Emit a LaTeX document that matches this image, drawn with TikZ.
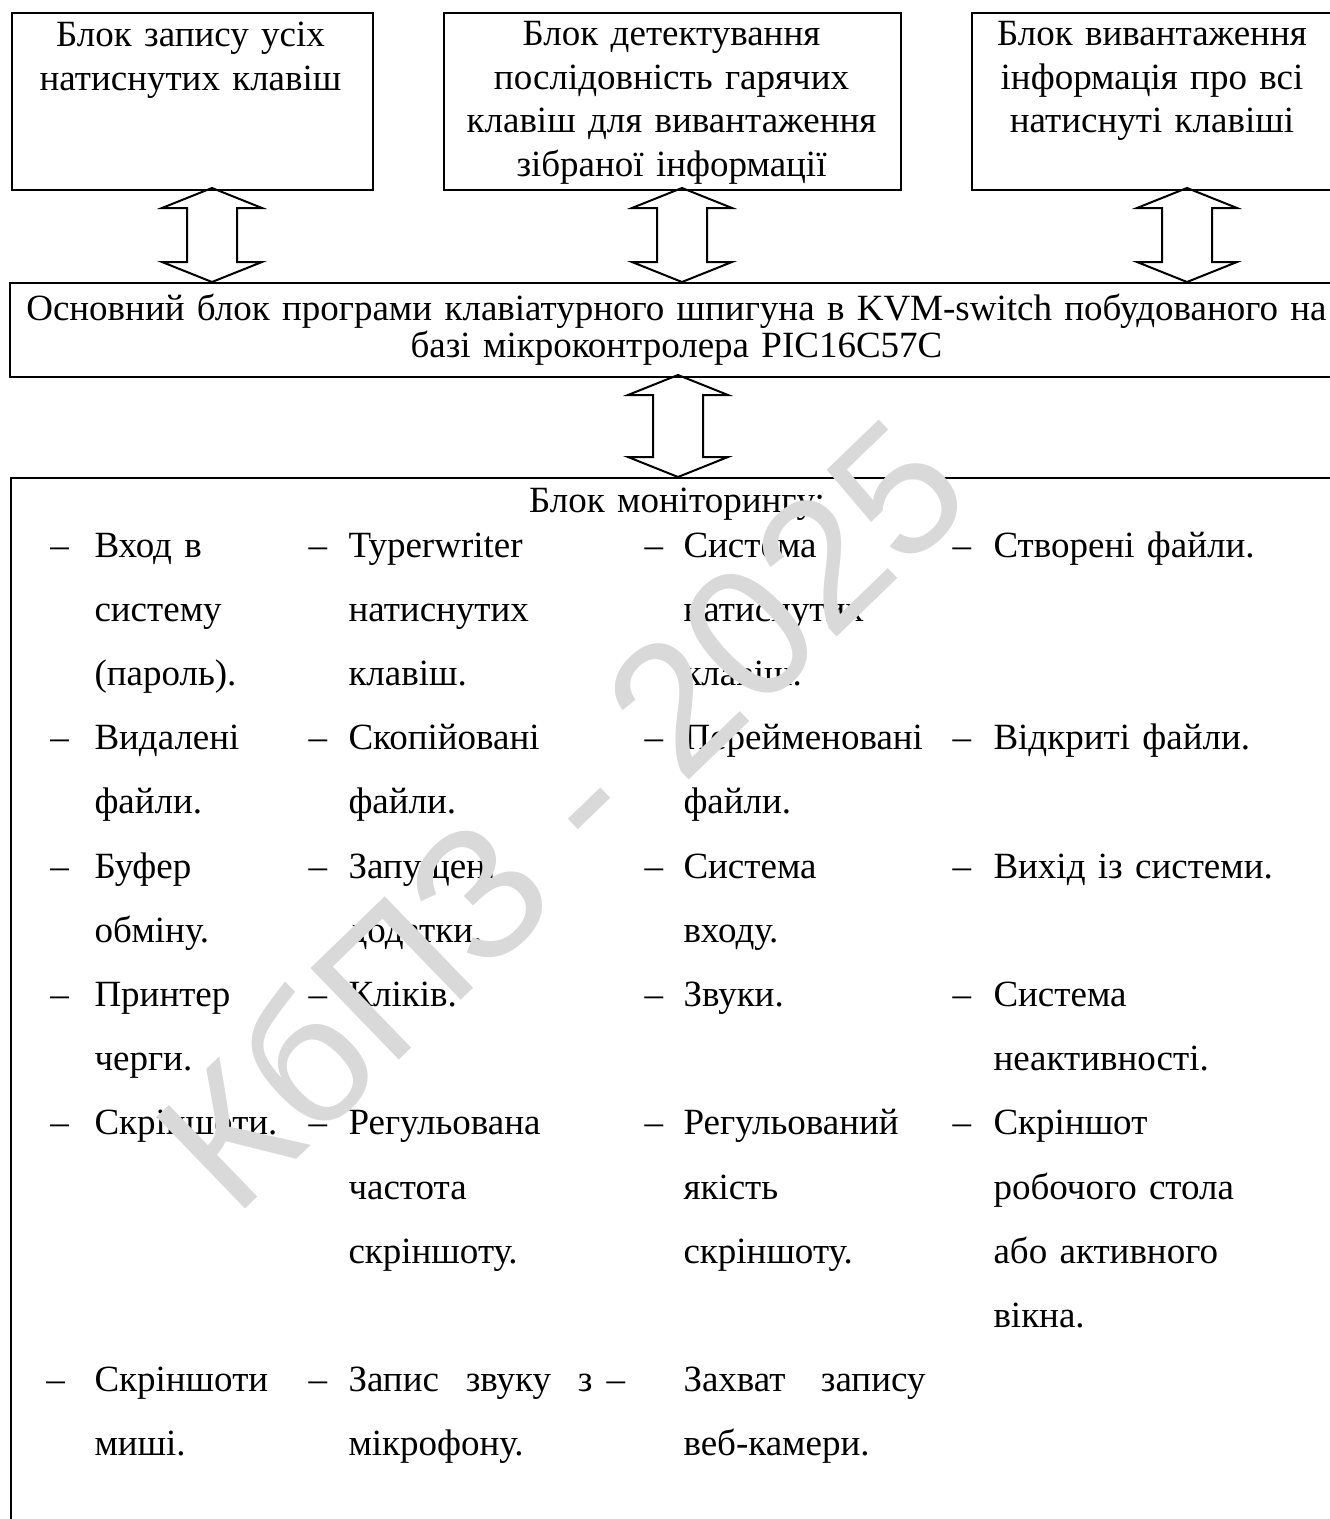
\documentclass[tikz,border=0pt]{standalone}
\usepackage{fontspec}
\setmainfont{Liberation Serif}
\newfontfamily\wmfont{Liberation Sans}
\usetikzlibrary{calc,fit}

% two-headed hollow arrow between an upper and a lower block
\newcommand\biarrow[3]{%
  \draw[barrow] ($(#2.south -| #1)+(0,-3)$) -- ++(50,20) -- ++(-25,0)
    -- ($(#3.north -| #1)+(25,-20)$) -- ++(25,0) -- (#3.north -| #1)
    -- ++(-50,-20) -- ++(25,0) -- ($(#2.south -| #1)+(-25,17)$) -- ++(-25,0) -- cycle;}

\tikzset{
  blk/.style={draw, line width=0.8pt, inner sep=0pt},
  barrow/.style={line width=0.8pt, line join=miter},
  title/.style={inner sep=0pt, anchor=base, align=center, text width=#1,
    font=\fontsize{14.8}{17.4}\selectfont},
  dashmark/.style={inner sep=0pt, anchor=base west, font=\fontsize{14.8}{16}\selectfont},
  entry/.style={inner sep=0pt, anchor=base west, align=left, text width=118pt,
    font=\fontsize{14.8}{25.7}\selectfont},
  wmark/.style={inner sep=0pt, text=black!15, font=\wmfont\fontsize{74}{74}\selectfont}
}

\begin{document}
\begin{tikzpicture}[x=0.4pt, y=-0.4pt]
    \useasboundingbox (0,0) rectangle (1330,1519);
    \clip (0,0) rectangle (1330,1519);

    % blocks
    \node[blk, fit={(12,13) (373,190)}] (rec) {};
    \node[blk, fit={(444,13) (901,190)}] (hot) {};
    \node[blk, fit={(972,13) (1334,190)}] (dump) {};
    \node[blk, fit={(10,283) (1345,377)}] (core) {};
    \node[blk, fit={(11,478) (1345,1560)}] (mon) {};

    \node[title=146pt] (recT) at ($(rec.north)+(-2,35)$) {Блок запису усіх\\натиснутих клавіш};
    \node[title=184pt] (hotT) at ($(hot.north)+(-1,34)$) {Блок детектування\\послідовність гарячих\\клавіш для вивантаження\\зібраної інформації};
    \node[title=146pt] (dumpT) at ($(dump.north)+(-1,34)$) {Блок вивантаження\\інформація про всі\\натиснуті клавіші};
    \node[title=560pt, font=\fontsize{14.8}{15}\selectfont] (coreT) at ($(core.north)+(-1,38)$) {Основний блок програми клавіатурного шпигуна в KVM-switch побудованого на\\базі мікроконтролера PIC16C57C};
    \node[title=300pt] (monT) at ($(mon.north)+(-1,35)$) {Блок моніторингу:};

    % arrows
    \coordinate (a1) at (212,0);
    \coordinate (a2) at (682,0);
    \coordinate (a3) at (1187,0);
    \coordinate (a4) at (678,0);
    \biarrow{a1}{rec}{core}
    \biarrow{a2}{hot}{core}
    \biarrow{a3}{dump}{core}
    \biarrow{a4}{core}{mon}

    % monitoring list
    \foreach \dx/\tx/\k/\txt [count=\n] in {
        50/94/0/{Вход в\\систему\\(пароль).},
        308/348/0/{Typerwriter\\натиснутих\\клавіш.},
        644/683/0/{Система\\натиснутих\\клавіш.},
        952/993/0/{Створені файли.},
        50/94/3/{Видалені\\файли.},
        308/348/3/{Скопійовані\\файли.},
        644/683/3/{Перейменовані\\файли.},
        952/993/3/{Відкриті файли.},
        50/94/5/{Буфер\\обміну.},
        308/348/5/{Запущені\\додатки.},
        644/683/5/{Система\\входу.},
        952/993/5/{Вихід із системи.},
        50/94/7/{Принтер\\черги.},
        308/348/7/{Кліків.},
        644/683/7/{Звуки.},
        952/993/7/{Система\\неактивності.},
        50/94/9/{Скріншоти.},
        308/348/9/{Регульована\\частота\\скріншоту.},
        644/683/9/{Регульований\\якість\\скріншоту.},
        952/993/9/{Скріншот\\робочого стола\\або активного\\вікна.},
        46/94/13/{Скріншоти\\миші.},
        308/348/13/{\hbox to 97.6pt{Запис\hfill звуку\hfill з}\\мікрофону.},
        606/683/13/{\hbox to 96.8pt{Захват\hfill запису}\\веб-камери.}}
    {
        \node[dashmark] (d\n) at (\dx,557+64.2*\k) {–};
        \node[entry] (e\n) at (\tx,557+64.2*\k) {\txt};
    }

    \node[wmark, rotate=44] (wm) at (560,812) {КбПЗ - 2025};

\end{tikzpicture}
\end{document}
